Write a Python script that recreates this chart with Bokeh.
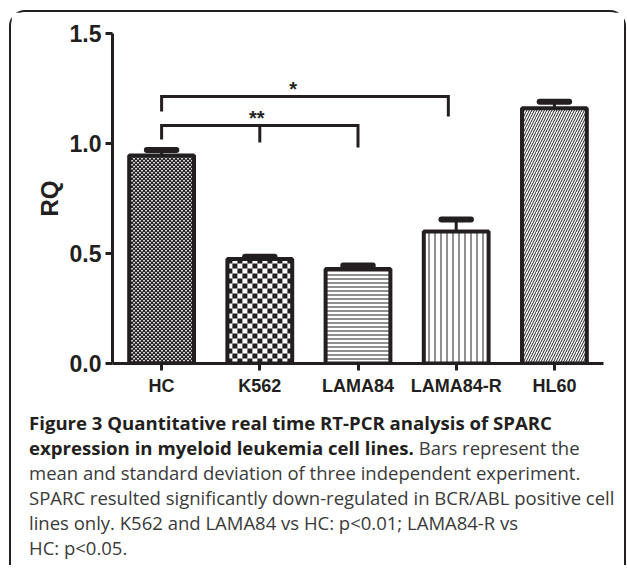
import numpy as np
from bokeh.plotting import figure
from bokeh.models import ColumnDataSource, FixedTicker, Div, NumeralTickFormatter
from bokeh.layouts import column
from bokeh.embed import file_html
from bokeh.resources import INLINE
from bokeh.core.properties import value

# ---------------- data ----------------
categories = ["HC", "K562", "LAMA84", "LAMA84-R", "HL60"]
positions = [1, 2, 3, 4, 5]
rq_mean = [0.945, 0.475, 0.43, 0.60, 1.16]
rq_sd = [0.025, 0.01, 0.015, 0.055, 0.03]
y_ticks = [0.0, 0.5, 1.0, 1.5]

# significance brackets (x in category positions, y in RQ units)
br_label = ["**", "*"]
br_left = [1, 1]
br_right = [3, 3.92]
br_mid = [2, None]
br_height = [1.082, 1.214]
br_left_foot = [1.018, 1.145]
br_right_foot = [0.982, 1.123]
br_mid_foot = [1.005, None]
br_label_x = [1.97, 2.34]

INK = "#231f20"
BAR_W = 0.66
X_RANGE = (0.5, 5.5)
Y_RANGE = (0.0, 1.5)
FIG_W, FIG_H = 613, 393
MB_L, MB_R, MB_T, MB_B = 101, 21, 21, 42
FRAME_W = FIG_W - MB_L - MB_R
FRAME_H = FIG_H - MB_T - MB_B
PX_X = (X_RANGE[1] - X_RANGE[0]) / FRAME_W
PX_Y = (Y_RANGE[1] - Y_RANGE[0]) / FRAME_H

p = figure(width=FIG_W, height=FIG_H, x_range=X_RANGE, y_range=Y_RANGE,
           output_backend="svg", toolbar_location=None,
           min_border_left=MB_L, min_border_right=MB_R,
           min_border_top=MB_T, min_border_bottom=MB_B)
p.outline_line_color = None
p.grid.visible = False
p.background_fill_color = "white"
p.border_fill_color = "white"


def checker(xc, top, cell_px, square_px, phase):
    """texture squares covering one bar"""
    cw, ch = cell_px * PX_X, cell_px * PX_Y
    sw, sh = square_px * PX_X, square_px * PX_Y
    left, right = xc - BAR_W / 2, xc + BAR_W / 2
    L, R, B, T = [], [], [], []
    for i, x0 in enumerate(np.arange(left, right, cw)):
        for j, y0 in enumerate(np.arange(0, top, ch)):
            if (i + j) % 2 == phase:
                L.append(x0); R.append(min(x0 + sw, right))
                B.append(y0); T.append(min(y0 + sh, top))
    return dict(left=L, right=R, bottom=B, top=T)


# HC: fine checker (dark with small white squares)
p.vbar(x=[positions[0]], top=[rq_mean[0]], width=BAR_W, fill_color="#2a2627", line_color=None)
p.quad(source=ColumnDataSource(checker(positions[0], rq_mean[0], 2.0, 1.6, 0)),
       fill_color="white", line_color=None)
# K562: coarse checker
p.vbar(x=[positions[1]], top=[rq_mean[1]], width=BAR_W, fill_color="white", line_color=None)
p.quad(source=ColumnDataSource(checker(positions[1], rq_mean[1], 5.0, 5.0, 0)),
       fill_color=INK, line_color=None)

# line hatches
hatches = {
    2: dict(hatch_pattern="horizontal_line", hatch_scale=4, hatch_weight=1),
    3: dict(hatch_pattern="vertical_line", hatch_scale=6, hatch_weight=1),
    4: dict(hatch_pattern="right_diagonal_line", hatch_scale=5, hatch_weight=1),
}
for i, h in hatches.items():
    p.vbar(x=[positions[i]], top=[rq_mean[i]], width=BAR_W, fill_color="white",
           line_color=None, hatch_color=INK, **h)

# bar outlines
p.vbar(x=positions, top=rq_mean, width=BAR_W, fill_color=None,
       line_color=INK, line_width=4)

# error bars
err_src = ColumnDataSource(dict(
    x=positions,
    y0=rq_mean,
    y1=[m + s for m, s in zip(rq_mean, rq_sd)],
    xl=[x - 0.15 for x in positions],
    xr=[x + 0.15 for x in positions],
))
p.segment(x0="x", y0="y0", x1="x", y1="y1", source=err_src, line_color=INK, line_width=3)
p.segment(x0="xl", y0="y1", x1="xr", y1="y1", source=err_src, line_color=INK,
          line_width=6, line_cap="round")

# brackets
xs, ys = [], []
for i in range(len(br_label)):
    xs.append([br_left[i], br_left[i], br_right[i], br_right[i]])
    ys.append([br_left_foot[i], br_height[i], br_height[i], br_right_foot[i]])
    if br_mid[i] is not None:
        xs.append([br_mid[i], br_mid[i]])
        ys.append([br_height[i], br_mid_foot[i]])
p.multi_line(xs=xs, ys=ys, line_color=INK, line_width=3, line_join="miter")
p.text(x=br_label_x, y=br_height, text=br_label, text_align="center",
       text_baseline="bottom", text_font=value("Liberation Sans"),
       text_font_style="bold", text_font_size="20px", text_color=INK, y_offset=4)

# axes
for ax in (p.xaxis, p.yaxis):
    ax.axis_line_color = INK
    ax.axis_line_width = 3
    ax.major_tick_line_color = INK
    ax.major_tick_line_width = 3
    ax.major_tick_out = 7
    ax.major_tick_in = 0
    ax.minor_tick_line_color = None
    ax.major_label_text_font = "Liberation Sans"
    ax.major_label_text_font_style = "bold"
    ax.major_label_text_color = INK

p.yaxis.ticker = FixedTicker(ticks=y_ticks)
p.yaxis.formatter = NumeralTickFormatter(format="0.0")
p.yaxis.major_label_text_font_size = "23px"
p.yaxis.major_label_standoff = 4
p.yaxis.axis_label = "RQ"
p.yaxis.axis_label_text_font = "Liberation Sans"
p.yaxis.axis_label_text_font_style = "bold"
p.yaxis.axis_label_text_font_size = "24px"
p.yaxis.axis_label_text_color = INK
p.yaxis.axis_label_standoff = 4

p.xaxis.ticker = FixedTicker(ticks=positions)
p.xaxis.major_label_overrides = {pos: c for pos, c in zip(positions, categories)}
p.xaxis.major_label_text_font_size = "18px"
p.xaxis.major_label_standoff = 5

caption_html = (
    "<div style=\"font-family:'Open Sans';font-size:18.5px;line-height:25.1px;"
    "color:#3a3a3a;white-space:nowrap;padding:0 0 0 13px;\">"
    "<b style=\"color:#231f20;font-size:18.6px\">Figure 3 Quantitative real time RT-PCR analysis of SPARC<br>"
    "expression in myeloid leukemia cell lines.</b> Bars represent the<br>"
    "mean and standard deviation of three independent experiment.<br>"
    "SPARC resulted significantly down-regulated in BCR/ABL positive cell<br>"
    "lines only. K562 and LAMA84 vs HC: p&lt;0.01; LAMA84-R vs<br>"
    "HC: p&lt;0.05.</div>"
)
cap = Div(text=caption_html, width=FIG_W, height=150)

layout = column(p, cap, styles={
    "margin-left": "9px",
    "margin-top": "10px",
    "width": "617px",
    "box-sizing": "border-box",
    "border-top": "2px solid #231f20",
    "border-left": "2px solid #231f20",
    "border-right": "2px solid #231f20",
    "border-top-left-radius": "16px",
    "border-top-right-radius": "16px",
    "background": "white",
})

open("out.html", "w").write(file_html(layout, INLINE))
